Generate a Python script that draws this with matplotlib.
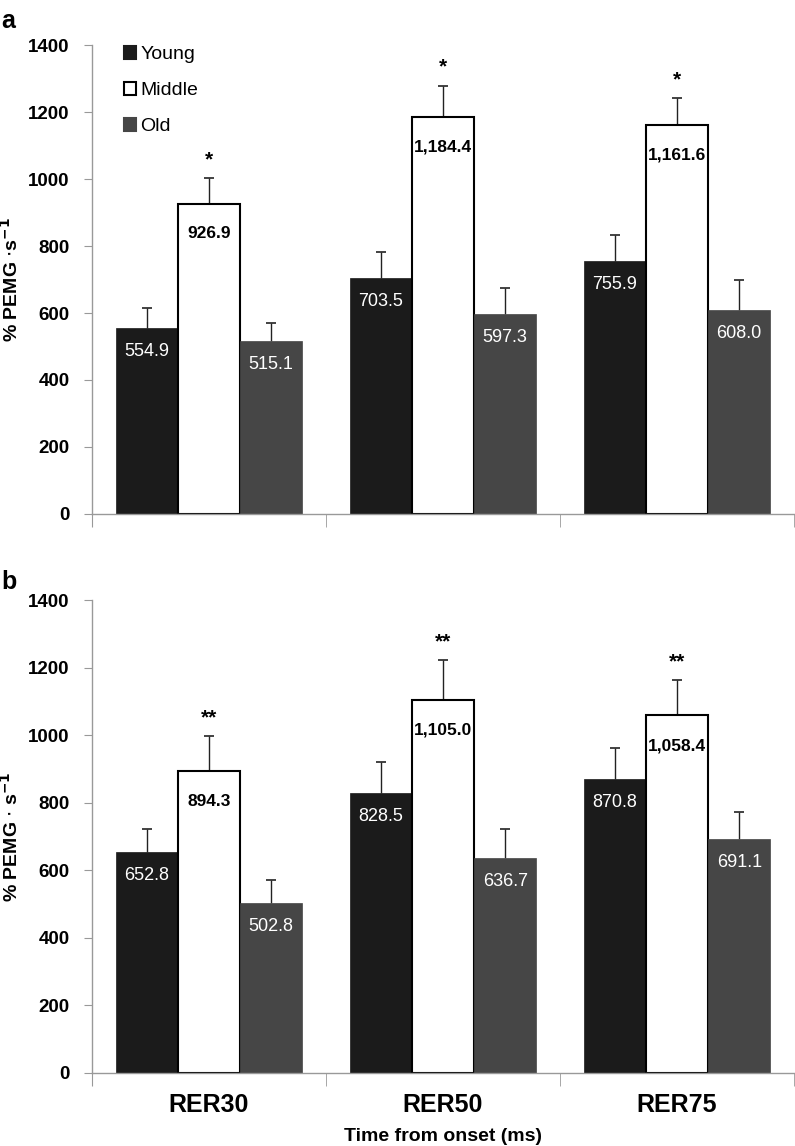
import numpy as np
import matplotlib
matplotlib.use("Agg")
import matplotlib.pyplot as plt
from matplotlib.patches import Patch

plt.rcParams["font.family"] = ["Liberation Sans", "DejaVu Sans"]

categories = ["RER30", "RER50", "RER75"]
groups = ["Young", "Middle", "Old"]

# panel a
young_a = [554.9, 703.5, 755.9]
middle_a = [926.9, 1184.4, 1161.6]
old_a = [515.1, 597.3, 608.0]
young_a_err = [61, 79, 76]
middle_a_err = [75, 94, 80]
old_a_err = [54, 78, 91]
stars_a = ["*", "*", "*"]

# panel b
young_b = [652.8, 828.5, 870.8]
middle_b = [894.3, 1105.0, 1058.4]
old_b = [502.8, 636.7, 691.1]
young_b_err = [70, 93, 92]
middle_b_err = [103, 117, 104]
old_b_err = [67, 84, 80]
stars_b = ["**", "**", "**"]

colors = {"Young": "#1b1b1b", "Middle": "white", "Old": "#464646"}


def fmt(v):
    return f"{v:,.1f}"


def draw_panel(ax, data, errs, stars, ylabel):
    x = np.arange(len(categories))
    w = 0.266
    for i, (g, vals, err) in enumerate(zip(groups, data, errs)):
        pos = x + (i - 1) * w
        vals = np.array(vals)
        err = np.array(err)
        edge = "black" if g == "Middle" else colors[g]
        ax.bar(pos, vals, w, color=colors[g], edgecolor=edge,
               linewidth=1.5 if g == "Middle" else 0.5, zorder=2)
        # upper error bar only
        ax.vlines(pos, vals, vals + err, color="#222222", linewidth=1, zorder=1)
        ax.plot(pos, vals + err, "_", color="#222222", markersize=7,
                markeredgewidth=1.2, zorder=3)
        for p, v in zip(pos, vals):
            if g == "Middle":
                ax.text(p, v - 90, fmt(v), ha="center", va="center",
                        fontsize=12.5, fontweight="bold", color="black", zorder=4)
            else:
                ax.text(p, v - 70, fmt(v), ha="center", va="center",
                        fontsize=13, color="white", zorder=4)
    for xi, s, v, e in zip(x, stars, data[1], errs[1]):
        ax.text(xi, v + e + 55, s, ha="center", va="center",
                fontsize=15, fontweight="bold")

    ax.set_xlim(-0.5, 2.5)
    ax.set_ylim(0, 1400)
    ax.set_yticks(range(0, 1401, 200))
    ax.set_yticklabels([str(t) for t in range(0, 1401, 200)],
                       fontsize=13.5, fontweight="bold")
    ax.set_xticks([0.5, 1.5, 2.5], minor=True)
    ax.set_xticks([-0.5], minor=False)
    ax.tick_params(axis="x", which="both", length=9, color="#999999",
                   labelbottom=False)
    ax.tick_params(axis="y", length=6, color="#999999", pad=10)
    for sp in ["top", "right"]:
        ax.spines[sp].set_visible(False)
    for sp in ["left", "bottom"]:
        ax.spines[sp].set_color("#999999")
        ax.spines[sp].set_linewidth(1)
    ax.set_ylabel(ylabel, fontsize=14, fontweight="bold")
    ax.yaxis.set_label_coords(-0.1, 0.5)


fig = plt.figure(figsize=(7.95, 11.46), dpi=100)
ax1 = fig.add_axes([0.1157, 0.5515, 0.883, 0.4092])
ax2 = fig.add_axes([0.1157, 0.0640, 0.883, 0.4124])

draw_panel(ax1, [young_a, middle_a, old_a], [young_a_err, middle_a_err, old_a_err],
           stars_a, "% PEMG $\\cdot$s$^{\\mathbf{-1}}$")
draw_panel(ax2, [young_b, middle_b, old_b], [young_b_err, middle_b_err, old_b_err],
           stars_b, "% PEMG $\\cdot$ s$^{\\mathbf{-1}}$")

handles = [Patch(facecolor=colors[g], edgecolor="black" if g == "Middle" else colors[g],
                 linewidth=1.5) for g in groups]
ax1.legend(handles, groups, loc="upper left", bbox_to_anchor=(0.02, 1.035),
           frameon=False, fontsize=14, handlelength=0.65, handleheight=0.65,
           handletextpad=0.2, labelspacing=0.95)

for xi, c in enumerate(categories):
    ax2.text(xi, -97, c, ha="center", va="center", fontsize=18, fontweight="bold")
ax2.text(1, -190, "Time from onset (ms)", ha="center", va="center",
         fontsize=14, fontweight="bold")

fig.text(0.002, 0.982, "a", fontsize=18, fontweight="bold", va="center")
fig.text(0.002, 0.492, "b", fontsize=18, fontweight="bold", va="center")

fig.savefig("out.png", dpi=100)
